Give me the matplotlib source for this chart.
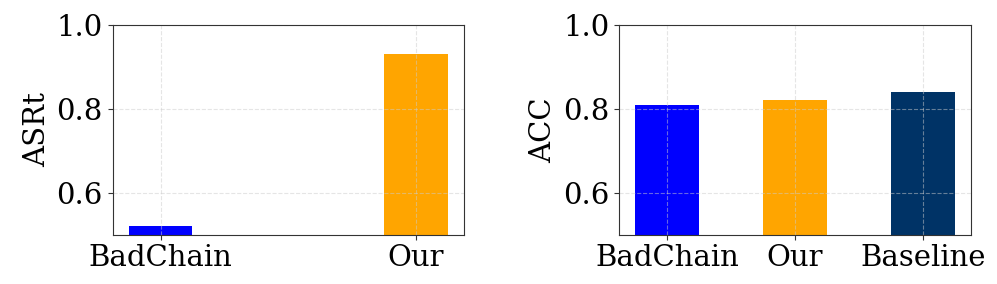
import matplotlib
matplotlib.use("Agg")
import matplotlib.pyplot as plt

plt.rcParams['font.family'] = 'DejaVu Serif'

asr_methods = ['BadChain', 'Our']
asr_values = [0.52, 0.93]
acc_methods = ['BadChain', 'Our', 'Baseline']
acc_values = [0.81, 0.82, 0.84]
colors = ['#0000ff', '#ffa500', '#003366']

fig = plt.figure(figsize=(9.97, 2.84), dpi=100)
ax1 = fig.add_axes([0.113, 0.174, 0.352, 0.738])
ax2 = fig.add_axes([0.621, 0.174, 0.353, 0.738])

ax1.bar(range(len(asr_methods)), asr_values, width=0.25, color=colors[:2])
ax1.set_xticks(range(len(asr_methods)))
ax1.set_xticklabels(asr_methods)
ax1.set_ylabel('ASRt')

ax2.bar(range(len(acc_methods)), acc_values, width=0.5, color=colors)
ax2.set_xticks(range(len(acc_methods)))
ax2.set_xticklabels(acc_methods)
ax2.set_ylabel('ACC')

for ax in (ax1, ax2):
    ax.set_ylim(0.5, 1.0)
    ax.set_yticks([0.6, 0.8, 1.0])
    ax.tick_params(labelsize=21, color='#333333')
    ax.yaxis.label.set_size(21)
    ax.grid(True, linestyle='--', color='#cccccc', alpha=0.5, linewidth=0.8)
    ax.set_axisbelow(False)
    for s in ax.spines.values():
        s.set_color('#333333')
        s.set_zorder(4)

fig.savefig('out.png', dpi=100)
